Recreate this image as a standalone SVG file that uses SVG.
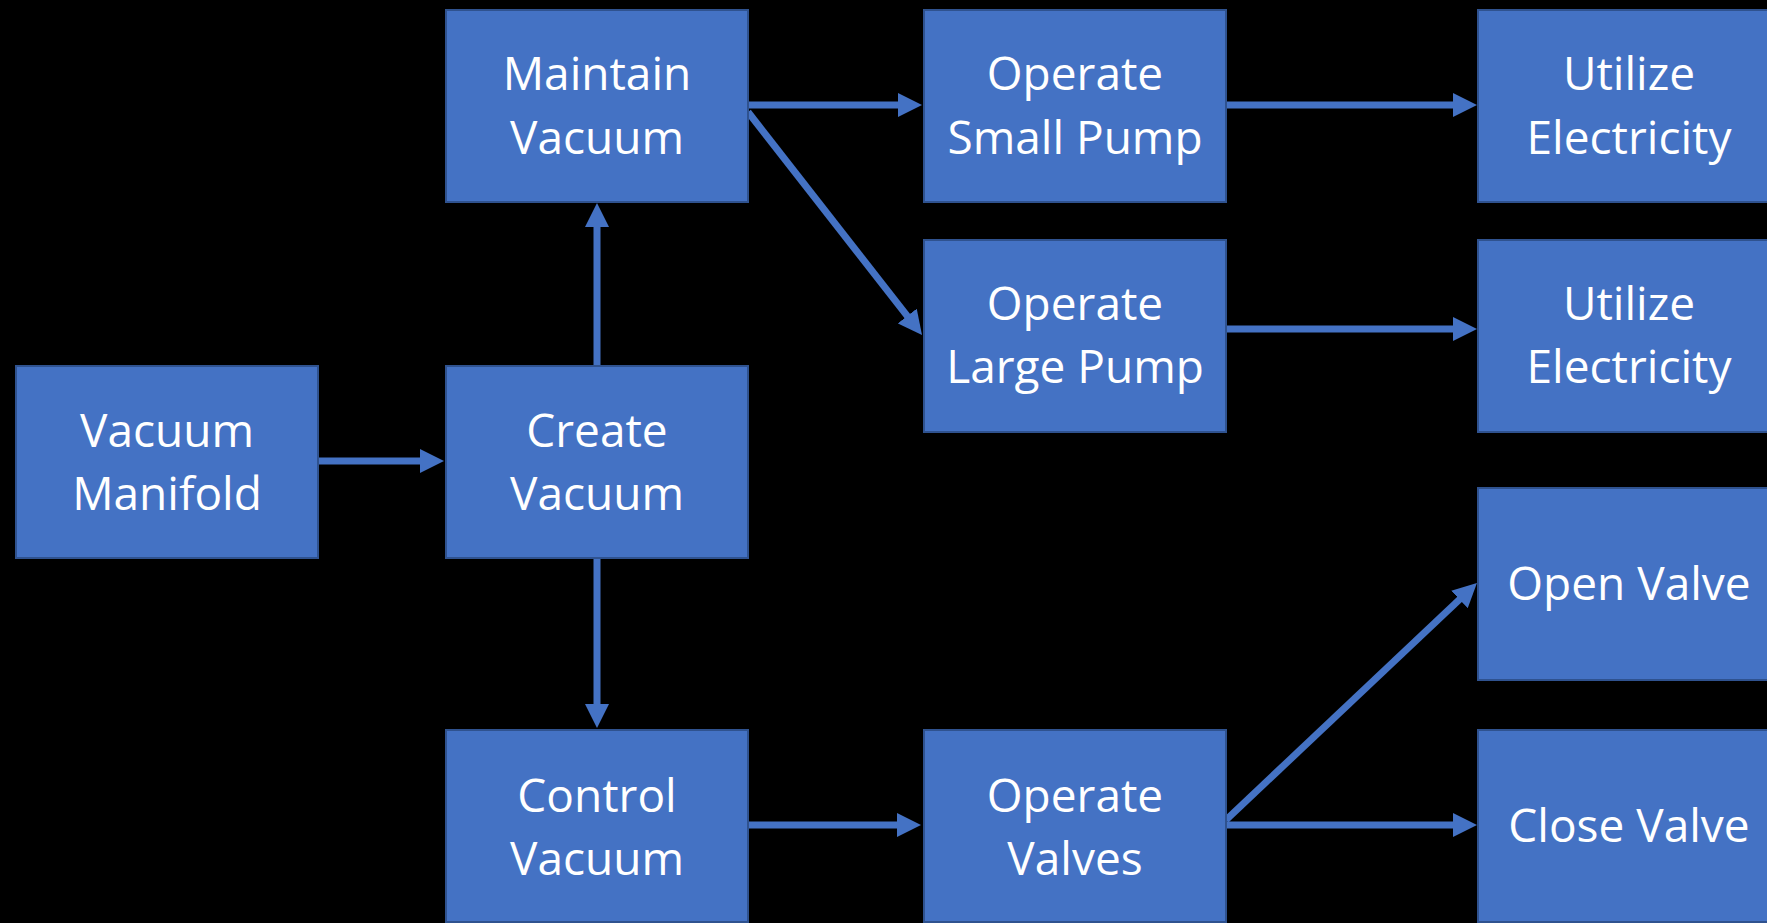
<svg xmlns="http://www.w3.org/2000/svg" width="1767" height="923" viewBox="0 0 1767 923">
<style>
.box{fill:#4472C4;stroke:#2F528F;stroke-width:2}
.lbl{font-family:"Open Sans","Liberation Sans",sans-serif;font-size:46px;fill:#FFFFFF;text-anchor:middle}
.con{stroke:#4472C4;stroke-width:7;fill:none;marker-end:url(#ah)}
</style>
<defs>
<marker id="ah" markerUnits="userSpaceOnUse" markerWidth="24" markerHeight="24" refX="4" refY="12" orient="auto" viewBox="0 0 24 24">
<path d="M0,0 L24,12 L0,24 z" fill="#4472C4"/>
</marker>
</defs>
<rect x="0" y="0" width="1767" height="923" fill="#000000"/>
<g id="connectors">
<line class="con" x1="318" y1="461" x2="424" y2="461"/>
<line class="con" x1="597" y1="366" x2="597" y2="223"/>
<line class="con" x1="597" y1="558" x2="597" y2="708"/>
<line class="con" x1="748" y1="105" x2="902" y2="105"/>
<line class="con" x1="748" y1="112" x2="909.7" y2="319.2"/>
<line class="con" x1="1226" y1="105" x2="1457" y2="105"/>
<line class="con" x1="1226" y1="329" x2="1457" y2="329"/>
<line class="con" x1="748" y1="825" x2="901" y2="825"/>
<line class="con" x1="1226" y1="825" x2="1457" y2="825"/>
<line class="con" x1="1226" y1="820" x2="1462.4" y2="596.7"/>
</g>
<g id="vacuum-manifold">
<rect class="box" x="16" y="366" width="302" height="192"/>
<text class="lbl" x="167" y="447">Vacuum</text>
<text class="lbl" x="167" y="510">Manifold</text>
</g>
<g id="create-vacuum">
<rect class="box" x="446" y="366" width="302" height="192"/>
<text class="lbl" x="597" y="447">Create</text>
<text class="lbl" x="597" y="510">Vacuum</text>
</g>
<g id="maintain-vacuum">
<rect class="box" x="446" y="10" width="302" height="192"/>
<text class="lbl" x="597" y="90">Maintain</text>
<text class="lbl" x="597" y="154">Vacuum</text>
</g>
<g id="control-vacuum">
<rect class="box" x="446" y="730" width="302" height="192"/>
<text class="lbl" x="597" y="812">Control</text>
<text class="lbl" x="597" y="875">Vacuum</text>
</g>
<g id="operate-small-pump">
<rect class="box" x="924" y="10" width="302" height="192"/>
<text class="lbl" x="1075" y="90">Operate</text>
<text class="lbl" x="1075" y="154">Small Pump</text>
</g>
<g id="operate-large-pump">
<rect class="box" x="924" y="240" width="302" height="192"/>
<text class="lbl" x="1075" y="320">Operate</text>
<text class="lbl" x="1075" y="383">Large Pump</text>
</g>
<g id="operate-valves">
<rect class="box" x="924" y="730" width="302" height="192"/>
<text class="lbl" x="1075" y="812">Operate</text>
<text class="lbl" x="1075" y="875">Valves</text>
</g>
<g id="utilize-electricity-1">
<rect class="box" x="1478" y="10" width="302" height="192"/>
<text class="lbl" x="1629" y="90">Utilize</text>
<text class="lbl" x="1629" y="154">Electricity</text>
</g>
<g id="utilize-electricity-2">
<rect class="box" x="1478" y="240" width="302" height="192"/>
<text class="lbl" x="1629" y="320">Utilize</text>
<text class="lbl" x="1629" y="383">Electricity</text>
</g>
<g id="open-valve">
<rect class="box" x="1478" y="488" width="302" height="192"/>
<text class="lbl" x="1629" y="600">Open Valve</text>
</g>
<g id="close-valve">
<rect class="box" x="1478" y="730" width="302" height="192"/>
<text class="lbl" x="1629" y="842">Close Valve</text>
</g>
</svg>
